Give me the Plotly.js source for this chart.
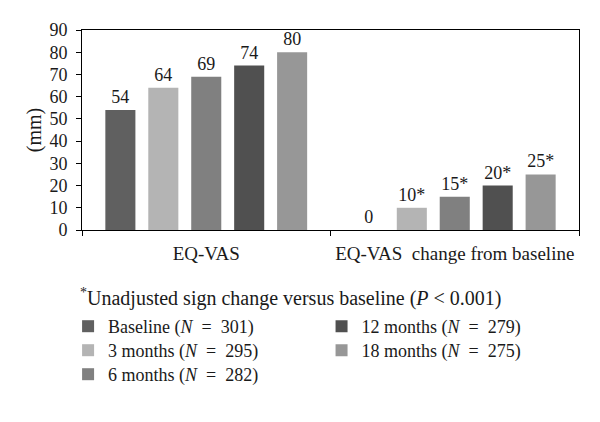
<!DOCTYPE html>
<html><head><meta charset="utf-8">
<script src="https://cdn.plot.ly/plotly-3.0.1.min.js"></script>
<style>body{margin:0;padding:0;background:#fff}#chart{width:600px;height:422px}</style>
</head><body><div id="chart"></div>
<script>
const categories = ["EQ-VAS", "EQ-VAS  change from baseline"];
const seriesNames = ["Baseline (<i>N</i>\u2002=\u2002301)", "3 months (<i>N</i>\u2002=\u2002295)", "6 months (<i>N</i>\u2002=\u2002282)", "12 months (<i>N</i>\u2002=\u2002279)", "18 months (<i>N</i>\u2002=\u2002275)"];
const baseline = [54, 0];
const m3 = [64, 10];
const m6 = [69, 15];
const m12 = [74, 20];
const m18 = [80, 25];
const labelsBaseline = ["54", "0"];
const labels3 = ["64", "10*"];
const labels6 = ["69", "15*"];
const labels12 = ["74", "20*"];
const labels18 = ["80", "25*"];
const colors = ["#606060", "#b4b4b4", "#808080", "#505050", "#979797"];
const footnote = "<sup>*</sup>Unadjusted sign change versus baseline (<i>P</i> < 0.001)";

const FONT = "Liberation Serif, Times New Roman, serif";
const series = [baseline, m3, m6, m12, m18];
const labels = [labelsBaseline, labels3, labels6, labels12, labels18];
const legendIds = ["legend", "legend2", "legend3", "legend4", "legend5"];
const traces = series.map((vals, i) => ({
  type: "bar",
  x: categories,
  y: vals,
  name: seriesNames[i],
  text: labels[i],
  textposition: "outside",
  textfont: {family: FONT, size: 18, color: "#1a1a1a"},
  cliponaxis: false,
  marker: {color: colors[i], line: {width: 0}},
  legend: legendIds[i],
  hoverinfo: "skip"
}));

const legendCommon = {
  font: {family: FONT, size: 18, color: "#1a1a1a"},
  bgcolor: "rgba(0,0,0,0)",
  yanchor: "top",
  xanchor: "left",
  tracegroupgap: 0,
  itemwidth: 30
};
// legend placement: column 1 rows 1-3, column 2 rows 1-2
const legendPos = [[-0.028, -0.39], [-0.028, -0.51], [-0.028, -0.63], [0.482, -0.39], [0.482, -0.51]];

const layout = {
  width: 600, height: 422,
  margin: {l: 82, r: 21, t: 30, b: 192},
  paper_bgcolor: "#fff", plot_bgcolor: "#fff",
  font: {family: FONT, size: 18, color: "#1a1a1a"},
  barmode: "group",
  bargap: 0.136,
  bargroupgap: 0.3,
  showlegend: true,
  xaxis: {
    type: "category",
    showline: true, linecolor: "#000", linewidth: 1, mirror: true,
    ticks: "outside", tickson: "boundaries", ticklen: 5, tickcolor: "#000",
    tickfont: {family: FONT, size: 19, color: "#1a1a1a"},
    ticklabelstandoff: 6,
    showgrid: false, zeroline: false
  },
  yaxis: {
    range: [0, 90], dtick: 10, tick0: 0,
    showline: true, linecolor: "#000", linewidth: 1, mirror: true,
    ticks: "outside", ticklen: 5, tickcolor: "#000",
    tickfont: {family: FONT, size: 18, color: "#1a1a1a"},
    ticklabelstandoff: 5,
    showgrid: false, zeroline: false,
    title: {text: "(mm)", font: {family: FONT, size: 20, color: "#1a1a1a"}, standoff: 2}
  },
  annotations: [{
    xref: "paper", yref: "paper", x: -0.008, y: -0.335,
    xanchor: "left", yanchor: "middle", showarrow: false,
    text: footnote, font: {family: FONT, size: 20, color: "#1a1a1a"}
  }]
};
legendIds.forEach((id, i) => {
  layout[id] = Object.assign({}, legendCommon, {x: legendPos[i][0], y: legendPos[i][1]});
});

Plotly.newPlot("chart", traces, layout, {displayModeBar: false, staticPlot: true});
</script></body></html>
